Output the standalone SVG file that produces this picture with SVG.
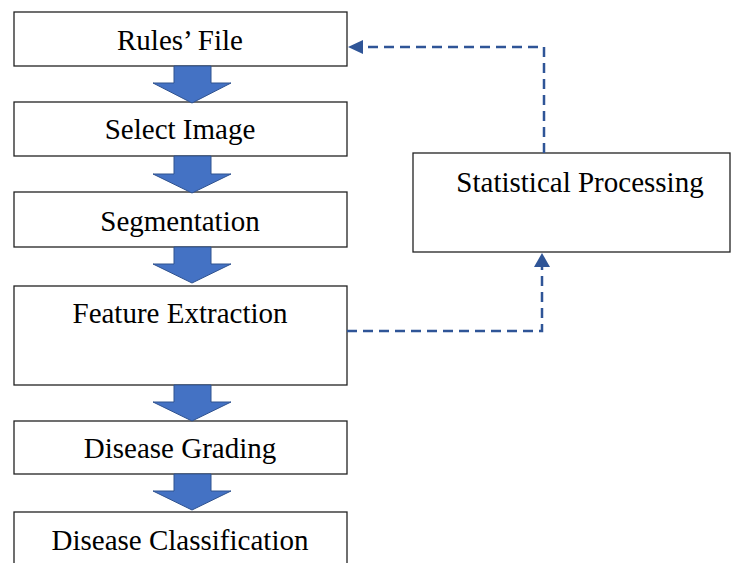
<svg xmlns="http://www.w3.org/2000/svg" width="733" height="563" viewBox="0 0 733 563">
<style>
.box{fill:#fff;stroke:#222;stroke-width:1.3}
.lbl{font-family:'Liberation Serif','DejaVu Serif',serif;font-size:29px;fill:#000;text-anchor:middle}
.blk{fill:#4472C4;stroke:#2F528F;stroke-width:1}
.dash{fill:none;stroke:#2F5597;stroke-width:2.5;stroke-dasharray:10 6}
</style>
<rect width="733" height="563" fill="#fff"/>
<g id="rules"><rect class="box" x="14" y="12" width="333" height="54"/><text class="lbl" font-family="Liberation Serif" x="180" y="50">Rules’ File</text></g>
<g id="select"><rect class="box" x="14" y="102" width="333" height="54"/><text class="lbl" x="180" y="139">Select Image</text></g>
<g id="seg"><rect class="box" x="14" y="192" width="333" height="55"/><text class="lbl" x="180" y="231">Segmentation</text></g>
<g id="feat"><rect class="box" x="14" y="286" width="333" height="99"/><text class="lbl" x="180" y="323">Feature Extraction</text></g>
<g id="grade"><rect class="box" x="14" y="421" width="333" height="53"/><text class="lbl" x="180" y="458">Disease Grading</text></g>
<g id="class"><rect class="box" x="14" y="512" width="333" height="60"/><text class="lbl" x="180" y="550">Disease Classification</text></g>
<g id="stat"><rect class="box" x="413" y="153" width="317" height="99"/><text class="lbl" x="580" y="192">Statistical Processing</text></g>
<g id="connectors">
<path class="blk" d="M174,66 H211 V83 H231 L192,103 L153,83 H174 Z"/>
<path class="blk" d="M174,156 H211 V174 H231 L192,193 L153,174 H174 Z"/>
<path class="blk" d="M174,247 H211 V264 H231 L192,283 L153,264 H174 Z"/>
<path class="blk" d="M174,385 H211 V402 H231 L192,421 L153,402 H174 Z"/>
<path class="blk" d="M174,474 H211 V491 H231 L192,510 L153,491 H174 Z"/>
<path class="dash" d="M544,153 V47 H362"/>
<path d="M348,47 L363,40 L363,54 Z" fill="#2F5597"/>
<path class="dash" d="M347,331 H542 V267"/>
<path d="M542,253 L534,267 L550,267 Z" fill="#2F5597"/>
</g>
</svg>
